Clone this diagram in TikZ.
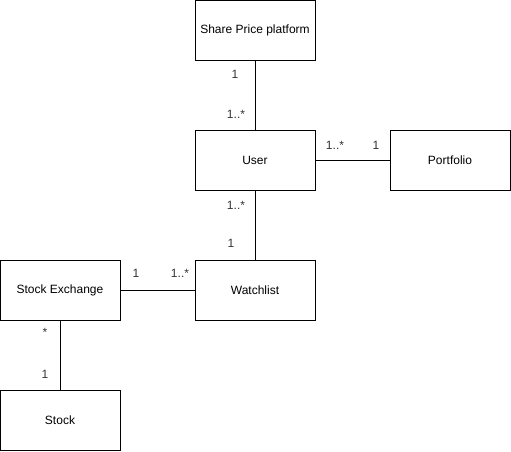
\documentclass[tikz,border=0pt]{standalone}
\usepackage{fontspec}
\setmainfont{Liberation Sans}
\usepackage{tikz}

\begin{document}
\begin{tikzpicture}[x=1pt,y=-1pt]
\tikzstyle{entity}=[rectangle,draw,line width=1pt,inner sep=0pt,minimum width=120pt,minimum height=60pt,font=\fontsize{12}{14}\selectfont]
 \tikzstyle{mult}=[inner sep=0pt,font=\fontsize{12}{14}\selectfont,text=black!80]
 \useasboundingbox (0,0) rectangle (511,451);
 \node[entity] (share) at (255,30) {Share Price platform};
 \node[entity] (user) at (255,160) {User};
 \node[entity] (portfolio) at (450,160) {Portfolio};
 \node[entity] (watch) at (255,290) {Watchlist};
 \node[entity] (exchange) at (60,290) {Stock Exchange};
 \node[entity] (stock) at (60,420) {Stock};
 \draw [line width=1pt] (share) -- (user);
 \draw [line width=1pt] (user) -- (portfolio);
 \draw [line width=1pt] (user) -- (watch);
 \draw [line width=1pt] (exchange) -- (watch);
 \draw [line width=1pt] (exchange) -- (stock);
 %multiplicities
 \node[mult] at (235,74) {1};
 \node[mult] at (236,114) {1..*};
 \node[mult] at (335,145) {1..*};
 \node[mult] at (376,145) {1};
 \node[mult] at (236,205) {1..*};
 \node[mult] at (231,243) {1};
 \node[mult] at (136,273) {1};
 \node[mult] at (180,273) {1..*};
 \node[mult] at (45,332) {*};
 \node[mult] at (45,374) {1};

\end{tikzpicture}
\end{document}
